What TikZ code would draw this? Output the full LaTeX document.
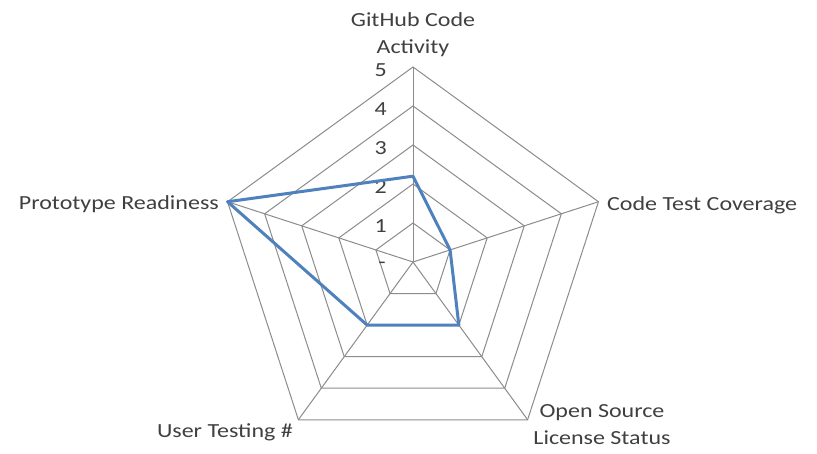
\documentclass[tikz,border=0pt]{standalone}
\usepackage{fontspec}
\setmainfont{Carlito}[FakeStretch=1.2]
\usetikzlibrary{calc}
\definecolor{gridgray}{HTML}{8C8C8C}
\definecolor{serblue}{HTML}{4F81BD}
\definecolor{txt}{HTML}{404040}
\begin{document}
\begin{tikzpicture}[x=1pt,y=-1pt,
  gridline/.style={draw=gridgray,line width=1pt},
  axlabel/.style={font=\fontsize{20}{27}\selectfont,text=txt,inner sep=0pt},
  ticklabel/.style={font=\fontsize{20}{20}\selectfont,text=txt,inner sep=0pt,anchor=east},
  series/.style={draw=serblue,line width=3pt,line join=round}]
\useasboundingbox (0,0) rectangle (817,454);
\fill[white] (0,0) rectangle (817,454);
\coordinate (c) at (413,262);
% rings (y axis points down, so angles are negated)
\foreach \r in {1,...,5}{
  \draw[gridline] ($(c)+(-90:\r*39)$) \foreach \a in {-162,-234,-306,-18}{ -- ($(c)+(\a:\r*39)$)} -- cycle;
}
% axes and vertex coordinates
\foreach \a/\n in {-90/v1,-18/v2,54/v3,-234/v4,-162/v5}{
  \coordinate (\n) at ($(c)+(\a:195)$);
  \draw[gridline] (c) -- (\n);
}
% tick labels
\node[ticklabel] (t0) at (386,265) {-};
\foreach \r in {1,...,5}{
  \node[ticklabel] (t\r) at (387,262-\r*39+3) {\r};
}
% series
\coordinate (p1) at ($(c)+(-90:2.2*39)$);
\coordinate (p2) at ($(c)+(-18:1*39)$);
\coordinate (p3) at ($(c)+(54:2*39)$);
\coordinate (p4) at ($(c)+(-234:2*39)$);
\coordinate (p5) at ($(c)+(-162:5*39)$);
\draw[series] (p1) -- (p2) -- (p3) -- (p4) -- (p5) -- cycle;
% axis labels
\node[axlabel,align=center,anchor=south] (l1) at (413,57) {GitHub Code\\Activity};
\node[axlabel,anchor=west] (l2) at (607,205) {Code Test Coverage};
\node[axlabel,align=center,anchor=north] (l3) at (602,404) {Open Source\\License Status};
\node[axlabel,anchor=east] (l4) at (293,432) {User Testing \#};
\node[axlabel,anchor=east] (l5) at (219,204) {Prototype Readiness};
\end{tikzpicture}
\end{document}
